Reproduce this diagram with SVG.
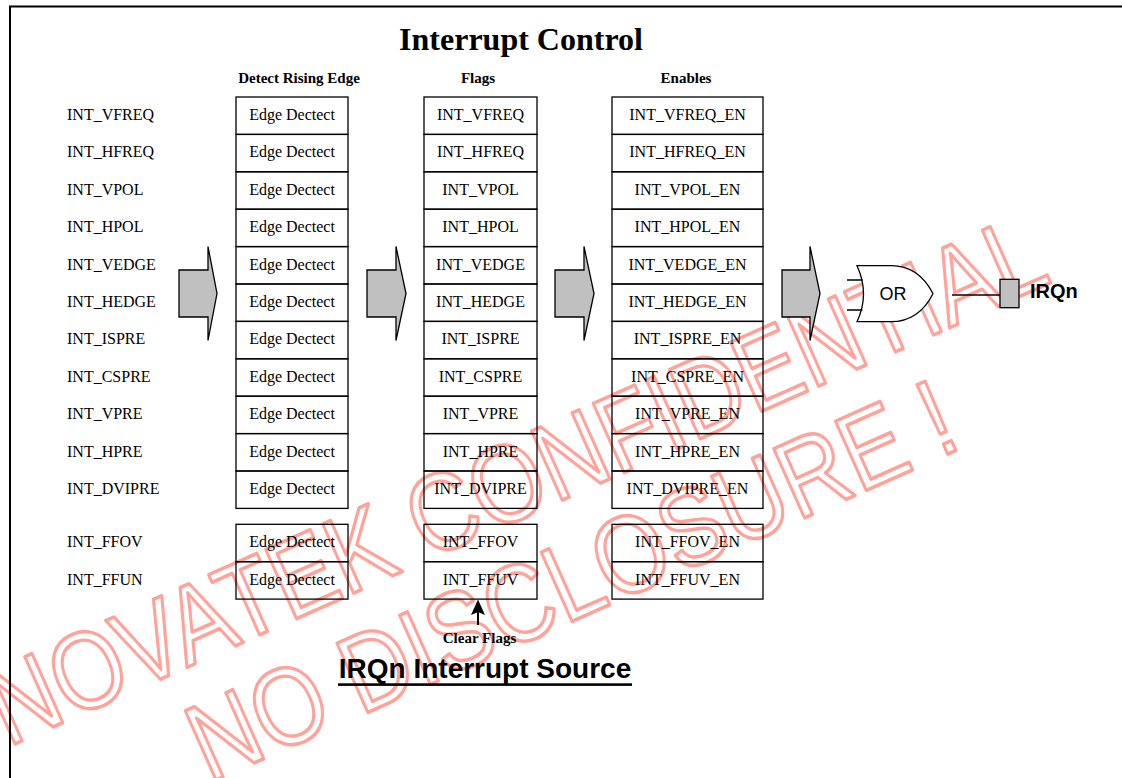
<svg xmlns="http://www.w3.org/2000/svg" width="1122" height="778" viewBox="0 0 1122 778">
<style>
.cell{fill:none;stroke:#000;stroke-width:1.3}
.t{font-family:"Liberation Serif","Times New Roman",serif;font-size:16px;fill:#000}
.c{text-anchor:middle}
.hd{font-family:"Liberation Serif","Times New Roman",serif;font-size:15px;font-weight:bold;fill:#000;text-anchor:middle}
.blk{fill:#c0c0c0;stroke:#000;stroke-width:1.3;stroke-linejoin:miter}
.ln{fill:none;stroke:#000;stroke-width:1.3}
.wm{font-family:"Liberation Sans",Arial,sans-serif;font-size:110px;fill:none;stroke:#ffa29a;stroke-width:3.5;stroke-linejoin:round}
</style>
<rect x="0" y="0" width="1122" height="778" fill="#fff"/>

<g id="watermark">
<text class="wm" x="0" y="0" transform="translate(8 747) rotate(-24) scale(0.85 1)">NOVATEK CONFIDENTIAL</text>
<text class="wm" x="0" y="0" transform="translate(209 783) rotate(-24) scale(0.85 1)">NO DISCLOSURE !</text>
</g>

<path d="M10,778 V6.5 H1122" fill="none" stroke="#000" stroke-width="2"/>
<text x="521" y="50" text-anchor="middle" font-family="Liberation Serif,'Times New Roman',serif" font-size="32" font-weight="bold">Interrupt Control</text>
<text class="hd" x="299" y="83">Detect Rising Edge</text>
<text class="hd" x="478" y="83">Flags</text>
<text class="hd" x="686" y="83">Enables</text>

<g id="inputs">
<text class="t" x="67" y="120">INT_VFREQ</text>
<text class="t" x="67" y="157.4">INT_HFREQ</text>
<text class="t" x="67" y="194.8">INT_VPOL</text>
<text class="t" x="67" y="232.2">INT_HPOL</text>
<text class="t" x="67" y="269.6">INT_VEDGE</text>
<text class="t" x="67" y="307">INT_HEDGE</text>
<text class="t" x="67" y="344.4">INT_ISPRE</text>
<text class="t" x="67" y="381.8">INT_CSPRE</text>
<text class="t" x="67" y="419.2">INT_VPRE</text>
<text class="t" x="67" y="456.6">INT_HPRE</text>
<text class="t" x="67" y="494">INT_DVIPRE</text>
<text class="t" x="67" y="547.3">INT_FFOV</text>
<text class="t" x="67" y="584.7">INT_FFUN</text>
</g>

<g id="edge-detect">
<g id="ed1"><rect class="cell" x="236" y="97" width="112" height="37.4"/><text class="t c" x="292" y="120">Edge Dectect</text></g>
<g id="ed2"><rect class="cell" x="236" y="134.4" width="112" height="37.4"/><text class="t c" x="292" y="157.4">Edge Dectect</text></g>
<g id="ed3"><rect class="cell" x="236" y="171.8" width="112" height="37.4"/><text class="t c" x="292" y="194.8">Edge Dectect</text></g>
<g id="ed4"><rect class="cell" x="236" y="209.2" width="112" height="37.4"/><text class="t c" x="292" y="232.2">Edge Dectect</text></g>
<g id="ed5"><rect class="cell" x="236" y="246.6" width="112" height="37.4"/><text class="t c" x="292" y="269.6">Edge Dectect</text></g>
<g id="ed6"><rect class="cell" x="236" y="284" width="112" height="37.4"/><text class="t c" x="292" y="307">Edge Dectect</text></g>
<g id="ed7"><rect class="cell" x="236" y="321.4" width="112" height="37.4"/><text class="t c" x="292" y="344.4">Edge Dectect</text></g>
<g id="ed8"><rect class="cell" x="236" y="358.8" width="112" height="37.4"/><text class="t c" x="292" y="381.8">Edge Dectect</text></g>
<g id="ed9"><rect class="cell" x="236" y="396.2" width="112" height="37.4"/><text class="t c" x="292" y="419.2">Edge Dectect</text></g>
<g id="ed10"><rect class="cell" x="236" y="433.6" width="112" height="37.4"/><text class="t c" x="292" y="456.6">Edge Dectect</text></g>
<g id="ed11"><rect class="cell" x="236" y="471" width="112" height="37.4"/><text class="t c" x="292" y="494">Edge Dectect</text></g>
<g id="ed12"><rect class="cell" x="236" y="524.3" width="112" height="37.4"/><text class="t c" x="292" y="547.3">Edge Dectect</text></g>
<g id="ed13"><rect class="cell" x="236" y="561.7" width="112" height="37.4"/><text class="t c" x="292" y="584.7">Edge Dectect</text></g>
</g>

<g id="flags">
<g id="fl1"><rect class="cell" x="424" y="97" width="113" height="37.4"/><text class="t c" x="480.5" y="120">INT_VFREQ</text></g>
<g id="fl2"><rect class="cell" x="424" y="134.4" width="113" height="37.4"/><text class="t c" x="480.5" y="157.4">INT_HFREQ</text></g>
<g id="fl3"><rect class="cell" x="424" y="171.8" width="113" height="37.4"/><text class="t c" x="480.5" y="194.8">INT_VPOL</text></g>
<g id="fl4"><rect class="cell" x="424" y="209.2" width="113" height="37.4"/><text class="t c" x="480.5" y="232.2">INT_HPOL</text></g>
<g id="fl5"><rect class="cell" x="424" y="246.6" width="113" height="37.4"/><text class="t c" x="480.5" y="269.6">INT_VEDGE</text></g>
<g id="fl6"><rect class="cell" x="424" y="284" width="113" height="37.4"/><text class="t c" x="480.5" y="307">INT_HEDGE</text></g>
<g id="fl7"><rect class="cell" x="424" y="321.4" width="113" height="37.4"/><text class="t c" x="480.5" y="344.4">INT_ISPRE</text></g>
<g id="fl8"><rect class="cell" x="424" y="358.8" width="113" height="37.4"/><text class="t c" x="480.5" y="381.8">INT_CSPRE</text></g>
<g id="fl9"><rect class="cell" x="424" y="396.2" width="113" height="37.4"/><text class="t c" x="480.5" y="419.2">INT_VPRE</text></g>
<g id="fl10"><rect class="cell" x="424" y="433.6" width="113" height="37.4"/><text class="t c" x="480.5" y="456.6">INT_HPRE</text></g>
<g id="fl11"><rect class="cell" x="424" y="471" width="113" height="37.4"/><text class="t c" x="480.5" y="494">INT_DVIPRE</text></g>
<g id="fl12"><rect class="cell" x="424" y="524.3" width="113" height="37.4"/><text class="t c" x="480.5" y="547.3">INT_FFOV</text></g>
<g id="fl13"><rect class="cell" x="424" y="561.7" width="113" height="37.4"/><text class="t c" x="480.5" y="584.7">INT_FFUV</text></g>
</g>

<g id="enables">
<g id="en1"><rect class="cell" x="612" y="97" width="151" height="37.4"/><text class="t c" x="687.5" y="120">INT_VFREQ_EN</text></g>
<g id="en2"><rect class="cell" x="612" y="134.4" width="151" height="37.4"/><text class="t c" x="687.5" y="157.4">INT_HFREQ_EN</text></g>
<g id="en3"><rect class="cell" x="612" y="171.8" width="151" height="37.4"/><text class="t c" x="687.5" y="194.8">INT_VPOL_EN</text></g>
<g id="en4"><rect class="cell" x="612" y="209.2" width="151" height="37.4"/><text class="t c" x="687.5" y="232.2">INT_HPOL_EN</text></g>
<g id="en5"><rect class="cell" x="612" y="246.6" width="151" height="37.4"/><text class="t c" x="687.5" y="269.6">INT_VEDGE_EN</text></g>
<g id="en6"><rect class="cell" x="612" y="284" width="151" height="37.4"/><text class="t c" x="687.5" y="307">INT_HEDGE_EN</text></g>
<g id="en7"><rect class="cell" x="612" y="321.4" width="151" height="37.4"/><text class="t c" x="687.5" y="344.4">INT_ISPRE_EN</text></g>
<g id="en8"><rect class="cell" x="612" y="358.8" width="151" height="37.4"/><text class="t c" x="687.5" y="381.8">INT_CSPRE_EN</text></g>
<g id="en9"><rect class="cell" x="612" y="396.2" width="151" height="37.4"/><text class="t c" x="687.5" y="419.2">INT_VPRE_EN</text></g>
<g id="en10"><rect class="cell" x="612" y="433.6" width="151" height="37.4"/><text class="t c" x="687.5" y="456.6">INT_HPRE_EN</text></g>
<g id="en11"><rect class="cell" x="612" y="471" width="151" height="37.4"/><text class="t c" x="687.5" y="494">INT_DVIPRE_EN</text></g>
<g id="en12"><rect class="cell" x="612" y="524.3" width="151" height="37.4"/><text class="t c" x="687.5" y="547.3">INT_FFOV_EN</text></g>
<g id="en13"><rect class="cell" x="612" y="561.7" width="151" height="37.4"/><text class="t c" x="687.5" y="584.7">INT_FFUV_EN</text></g>
</g>

<g id="or-gate">
<path class="cell" style="fill:#fff" d="M857,265.7 L891,265.7 C915,265.7 927,282 933,293.7 C927,305.4 915,321.7 891,321.7 L857,321.7 Q870,293.7 857,265.7 Z"/>
<text x="893" y="299.5" text-anchor="middle" font-family="Liberation Sans,Arial,sans-serif" font-size="18">OR</text>
</g>

<g id="irqn">
<rect class="blk" x="1000" y="279.3" width="19" height="28.4"/>
<text x="1030" y="298" font-family="Liberation Sans,Arial,sans-serif" font-size="20" font-weight="bold">IRQn</text>
</g>

<g id="connectors">
<path class="blk" d="M179,270 H208 V246.5 L217,293.5 L208,340.5 V317 H179 Z"/>
<path class="blk" d="M367,270 H396 V246.5 L406,293.5 L396,340.5 V317 H367 Z"/>
<path class="blk" d="M555,270 H584 V246.5 L594,293.5 L584,340.5 V317 H555 Z"/>
<path class="blk" d="M782,270 H810 V246.5 L820,293.5 L810,340.5 V317 H782 Z"/>
<path class="ln" d="M847,280 H862.5 M847,310 H862.5"/>
<path class="ln" d="M952,295 H1000"/>
<path d="M478,625 V610" fill="none" stroke="#000" stroke-width="2"/>
<path d="M478,599.5 L485,615 L478,612 L471,615 Z" fill="#000"/>
</g>

<text class="hd" x="479.5" y="643">Clear Flags</text>
<text x="485" y="678" text-anchor="middle" font-family="Liberation Sans,Arial,sans-serif" font-size="28" font-weight="bold">IRQn Interrupt Source</text>
<rect x="338" y="683.3" width="294" height="2.6" fill="#000"/>
</svg>
